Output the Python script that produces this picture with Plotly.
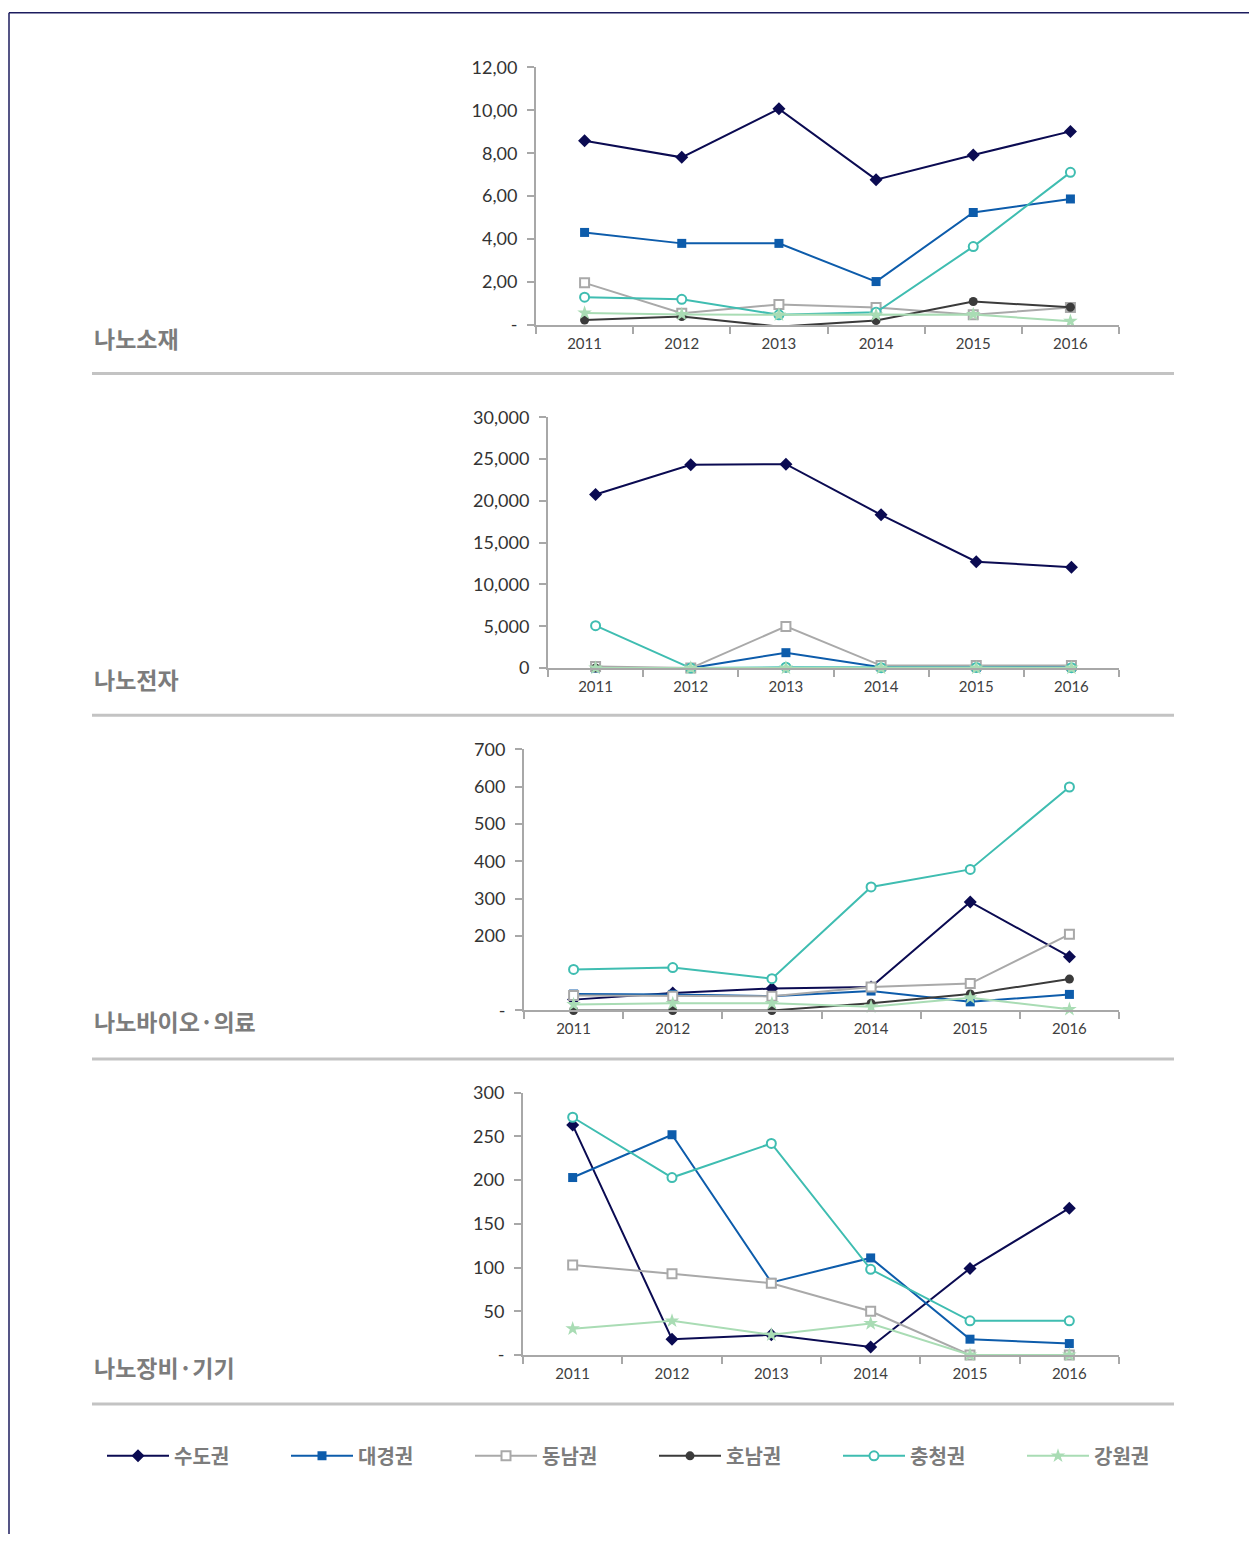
import plotly.graph_objects as go

W, H = 1249, 1544

years = ["2011", "2012", "2013", "2014", "2015", "2016"]
regions = ["수도권", "대경권", "동남권", "호남권", "충청권", "강원권"]
panel_titles = ["나노소재", "나노전자", "나노바이오·의료", "나노장비·기기"]

# 나노소재
material_sudo = [8.58, 7.81, 10.07, 6.77, 7.92, 9.02]
material_daegyeong = [4.31, 3.80, 3.80, 2.02, 5.24, 5.87]
material_dongnam = [1.96, 0.54, 0.95, 0.81, 0.47, 0.81]
material_honam = [0.23, 0.39, -0.08, 0.20, 1.09, 0.82]
material_chungcheong = [1.29, 1.19, 0.47, 0.59, 3.65, 7.11]
material_gangwon = [0.56, 0.49, 0.47, 0.47, 0.49, 0.17]

# 나노전자
electronics_sudo = [20760, 24310, 24380, 18330, 12720, 12070]
electronics_daegyeong = [0, 0, 1840, 100, 80, 100]
electronics_dongnam = [200, 0, 4980, 300, 300, 300]
electronics_honam = [20, 20, 20, 20, 20, 20]
electronics_chungcheong = [5070, 0, 100, 50, 80, 50]
electronics_gangwon = [10, 10, 10, 10, 10, 10]

# 나노바이오·의료
bio_sudo = [29, 47, 59, 63, 291, 144]
bio_daegyeong = [44, 43, 38, 52, 23, 43]
bio_dongnam = [40, 38, 38, 63, 72, 204]
bio_honam = [0, 0, 0, 19, 44, 84]
bio_chungcheong = [110, 115, 85, 331, 378, 599]
bio_gangwon = [16, 19, 19, 10, 34, 3]

# 나노장비·기기
equip_sudo = [263, 18, 23, 9, 99, 168]
equip_daegyeong = [203, 252, 83, 111, 18, 13]
equip_dongnam = [103, 93, 82, 50, 0, 0]
equip_honam = [None, None, None, None, None, None]
equip_chungcheong = [272, 203, 242, 98, 39, 39]
equip_gangwon = [30, 39, 23, 36, 0, 0]

# y-axis ticks
material_ticks = [0, 2, 4, 6, 8, 10, 12]
material_ticktext = ["-", "2,00", "4,00", "6,00", "8,00", "10,00", "12,00"]
electronics_ticks = [0, 5000, 10000, 15000, 20000, 25000, 30000]
electronics_ticktext = ["0", "5,000", "10,000", "15,000", "20,000", "25,000", "30,000"]
bio_ticks = [0, 200, 300, 400, 500, 600, 700]
bio_ticktext = ["-", "200", "300", "400", "500", "600", "700"]
equip_ticks = [0, 50, 100, 150, 200, 250, 300]
equip_ticktext = ["-", "50", "100", "150", "200", "250", "300"]

panel_data = [
    [material_sudo, material_daegyeong, material_dongnam, material_honam, material_chungcheong, material_gangwon],
    [electronics_sudo, electronics_daegyeong, electronics_dongnam, electronics_honam, electronics_chungcheong, electronics_gangwon],
    [bio_sudo, bio_daegyeong, bio_dongnam, bio_honam, bio_chungcheong, bio_gangwon],
    [equip_sudo, equip_daegyeong, equip_dongnam, equip_honam, equip_chungcheong, equip_gangwon],
]
panel_ticks = [
    (material_ticks, material_ticktext),
    (electronics_ticks, electronics_ticktext),
    (bio_ticks, bio_ticktext),
    (equip_ticks, equip_ticktext),
]

# styles
colors = ["#0b0b52", "#0d5cab", "#a9a9a9", "#3b3b3b", "#3fbdb1", "#a9dcb4"]
symbols = ["diamond", "square", "square-open", "circle", "circle-open", "star"]
msizes = [10, 9, 10, 9, 10, 11]

# target layout in page pixels: (x0, x1, ytop, ybottom)
boxes = [
    (536, 1119, 66.7, 324.3),
    (548, 1119, 416.7, 667.7),
    (524, 1119, 749.0, 1010.3),
    (523, 1119, 1092.7, 1355.0),
]
title_y = [337, 679, 1021, 1367]
sep_y = [373, 715, 1059, 1404]
legend_y = 1456

# the captured page places the figure slightly inset vertically; compensate
Y_OFF, Y_SCALE = 11.2, 0.9864


def fy(py):
    """page pixel row -> paper y fraction"""
    fig_px = (py - Y_OFF) / Y_SCALE
    fig_px = max(0.75, min(H, fig_px))
    return 1 - fig_px / H


fig = go.Figure()
AXC = "#a8a8a8"
TICKFONT = "Lato, 'Noto Sans', sans-serif"

for p in range(4):
    ax = "" if p == 0 else str(p + 1)
    for r in range(6):
        sym = symbols[r]
        marker = dict(symbol=sym.replace("-open", ""), size=msizes[r], color=colors[r])
        if sym.endswith("-open"):
            marker = dict(symbol=sym.replace("-open", ""), size=msizes[r] - 1, color="white",
                          line=dict(color=colors[r], width=2))
        fig.add_trace(go.Scatter(
            x=years, y=panel_data[p][r], mode="lines+markers",
            name=regions[r], legendgroup=regions[r], showlegend=(p == 0),
            line=dict(color=colors[r], width=2),
            marker=marker, cliponaxis=False,
            xaxis="x" + ax, yaxis="y" + ax,
        ))
    x0, x1, yt, yb = boxes[p]
    tv, tt = panel_ticks[p]
    fig.update_layout(**{
        "xaxis" + ax: dict(
            domain=[x0 / W, x1 / W], anchor="y" + ax, type="category",
            categoryorder="array", categoryarray=years, range=[-0.5, 5.5],
            showline=True, linecolor=AXC, linewidth=2, ticks="outside",
            tickson="boundaries", ticklen=7, tickwidth=1.5, tickcolor=AXC,
            tickfont=dict(family=TICKFONT, size=15, color="#404040"),
            ticklabelstandoff=4,
            showgrid=False, zeroline=False, fixedrange=True,
        ),
        "yaxis" + ax: dict(
            domain=[fy(yb), fy(yt)], anchor="x" + ax,
            range=[0, tv[-1]], tickvals=tv, ticktext=tt,
            showline=True, linecolor=AXC, linewidth=2, ticks="outside",
            ticklen=7, tickwidth=1.5, tickcolor=AXC,
            tickfont=dict(family=TICKFONT, size=18, color="#333333"),
            ticklabelstandoff=6,
            showgrid=False, zeroline=False, fixedrange=True,
        ),
    })

shapes = []
for y in sep_y:
    shapes.append(dict(type="line", xref="paper", yref="paper",
                       x0=92 / W, x1=1174 / W, y0=fy(y), y1=fy(y),
                       line=dict(color="#c3c3c3", width=3)))
# outer frame (top and left)
shapes.append(dict(type="line", xref="paper", yref="paper",
                   x0=9 / W, x1=1.0, y0=fy(4.5), y1=fy(4.5),
                   line=dict(color="#1c1c5e", width=1.5)))
shapes.append(dict(type="line", xref="paper", yref="paper",
                   x0=9 / W, x1=9 / W, y0=0, y1=fy(4.5),
                   line=dict(color="#1c1c5e", width=1.5)))

annotations = []
for t, y in zip(panel_titles, title_y):
    annotations.append(dict(text=t, xref="paper", yref="paper",
                            x=92 / W, y=fy(y), xanchor="left", yanchor="middle",
                            showarrow=False,
                            font=dict(family="Noto Sans CJK KR", size=23, color="#7c7c7c", weight="bold")))

fig.update_layout(
    width=W, height=H, margin=dict(l=0, r=0, t=0, b=0),
    paper_bgcolor="white", plot_bgcolor="white",
    shapes=shapes, annotations=annotations,
    showlegend=True,
    legend=dict(
        orientation="h", x=102 / W, y=fy(legend_y), xanchor="left", yanchor="middle",
        entrywidth=107, entrywidthmode="pixels", itemwidth=62,
        font=dict(family="Noto Sans CJK KR", size=20, color="#7c7c7c", weight="bold"),
        bgcolor="rgba(0,0,0,0)", itemclick=False, itemdoubleclick=False,
    ),
)

fig.write_html("out.html")
